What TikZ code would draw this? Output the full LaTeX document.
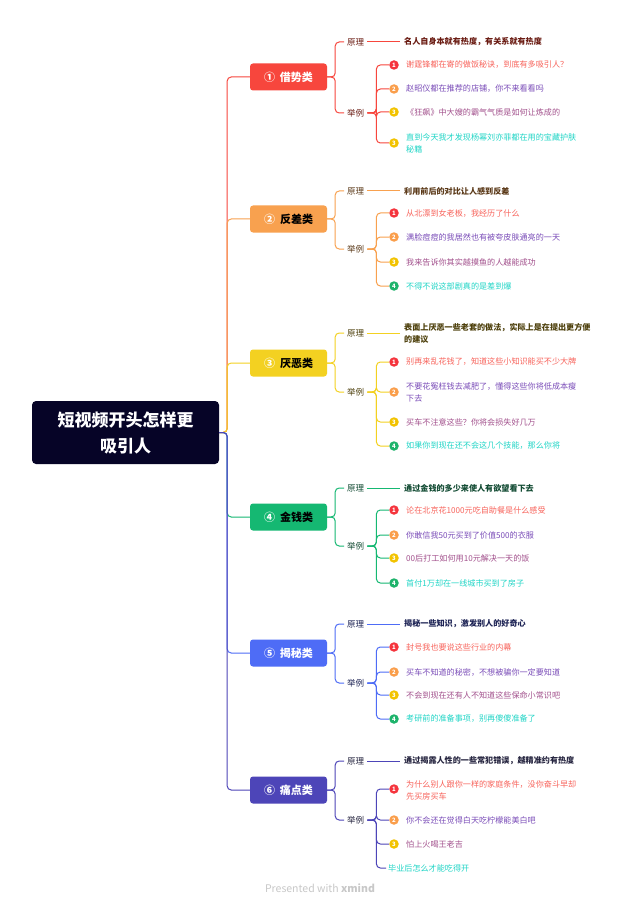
\documentclass[tikz,border=0pt]{standalone}
\usepackage{fontspec}
\setmainfont{Noto Sans CJK SC}
\definecolor{rootnavy}{HTML}{060427}
\definecolor{boxred}{HTML}{F7463D}
\definecolor{boxorange}{HTML}{F8A14F}
\definecolor{boxyellow}{HTML}{F3D121}
\definecolor{boxgreen}{HTML}{15B872}
\definecolor{boxblue}{HTML}{4E6CF6}
\definecolor{boxpurple}{HTML}{4D45B8}
\definecolor{rulered}{HTML}{6A1B12}
\definecolor{rulebrown}{HTML}{5B3918}
\definecolor{ruleolive}{HTML}{4D3F0B}
\definecolor{rulegreen}{HTML}{124B33}
\definecolor{rulenavy}{HTML}{1C2254}
\definecolor{rulepurple}{HTML}{25243F}
\definecolor{itemred}{HTML}{F8635B}
\definecolor{itempurple}{HTML}{7A4CB8}
\definecolor{itemmauve}{HTML}{A2508C}
\definecolor{itemcyan}{HTML}{1FD5C6}
\definecolor{dotred}{HTML}{F5343D}
\definecolor{dotorange}{HTML}{FA9E4B}
\definecolor{dotyellow}{HTML}{F2C300}
\definecolor{dotgreen}{HTML}{1DB36B}
\definecolor{footgray}{HTML}{C8C8C8}
\tikzset{
	catbox/.style={shape=rectangle, rounded corners=3pt, minimum width=77pt, minimum height=27pt, inner sep=0pt, font=\fontsize{11}{13}\selectfont\bfseries},
	tag/.style={anchor=west, inner sep=3pt, font=\fontsize{8.5}{10}\selectfont},
	rule/.style={anchor=west, inner sep=4pt, align=left, font=\fontsize{8.1}{12}\selectfont\bfseries},
	item/.style={anchor=west, inner sep=4pt, align=left, font=\fontsize{8.1}{12}\selectfont},
	dot/.style={shape=circle, minimum size=9.5pt, inner sep=0pt, text=white, font=\fontsize{6}{6}\selectfont\bfseries},
	wire/.style={line width=1pt, rounded corners=4pt},
}
\begin{document}
\begin{tikzpicture}[x=1pt, y=-1pt]
	\useasboundingbox (0,0) rectangle (640,909);
	\fill[white] (0,0) rectangle (640,909);
	% Paths, nodes and wires:
	\node[shape=rectangle, rounded corners=4pt, fill=rootnavy, minimum width=187pt, minimum height=63pt, text=white, align=center, font=\fontsize{17}{26}\selectfont\bfseries] (root) at (125.5, 432.5){短视频开头怎样更\\吸引人};
	% branch 1
	\node[catbox, fill=boxred, text=white] (c1) at (288.5, 77){①\hspace{5pt}借势类};
	\node[tag, text=rulered] (p1) at (344, 42){原理};
	\node[rule, text=rulered] (t1) at (400, 42){名人自身本就有热度，有关系就有热度};
	\node[tag, text=rulered] (e1) at (344, 113){举例};
	\node[dot, fill=dotred] (d11) at (394, 65){1};
	\node[item, text=itemred] (i11) at (402, 65){谢霆锋都在寄的做饭秘诀，到底有多吸引人？};
	\node[dot, fill=dotorange] (d12) at (394, 89){2};
	\node[item, text=itempurple] (i12) at (402, 89){赵昭仪都在推荐的店铺，你不来看看吗};
	\node[dot, fill=dotyellow] (d13) at (394, 112){3};
	\node[item, text=itemmauve] (i13) at (402, 112){《狂飙》中大嫂的霸气气质是如何让炼成的};
	\node[dot, fill=dotyellow] (d14) at (394, 143){3};
	\node[item, text=itemcyan] (i14) at (402, 143){直到今天我才发现杨幂刘亦菲都在用的宝藏护肤\\秘籍};
	% branch 2
	\node[catbox, fill=boxorange, text=black] (c2) at (288.5, 219){\textcolor{white}{②}\hspace{5pt}反差类};
	\node[tag, text=rulebrown] (p2) at (344, 191){原理};
	\node[rule, text=rulebrown] (t2) at (400, 191){利用前后的对比让人感到反差};
	\node[tag, text=rulebrown] (e2) at (344, 249){举例};
	\node[dot, fill=dotred] (d21) at (394, 213){1};
	\node[item, text=itemred] (i21) at (402, 213){从北漂到女老板，我经历了什么};
	\node[dot, fill=dotorange] (d22) at (394, 237){2};
	\node[item, text=itempurple] (i22) at (402, 237){满脸痘痘的我居然也有被夸皮肤通亮的一天};
	\node[dot, fill=dotyellow] (d23) at (394, 262){3};
	\node[item, text=itemmauve] (i23) at (402, 262){我来告诉你其实越摸鱼的人越能成功};
	\node[dot, fill=dotgreen] (d24) at (394, 286){4};
	\node[item, text=itemcyan] (i24) at (402, 286){不得不说这部剧真的是差到爆};
	% branch 3
	\node[catbox, fill=boxyellow, text=black] (c3) at (288.5, 363){\textcolor{white}{③}\hspace{5pt}厌恶类};
	\node[tag, text=ruleolive] (p3) at (344, 333){原理};
	\node[rule, text=ruleolive] (t3) at (400, 333){表面上厌恶一些老套的做法，实际上是在提出更方便\\的建议};
	\node[tag, text=ruleolive] (e3) at (344, 392){举例};
	\node[dot, fill=dotred] (d31) at (394, 362){1};
	\node[item, text=itemred] (i31) at (402, 362){别再来乱花钱了，知道这些小知识能买不少大牌};
	\node[dot, fill=dotorange] (d32) at (394, 392){2};
	\node[item, text=itempurple] (i32) at (402, 392){不要花冤枉钱去减肥了，懂得这些你将低成本瘦\\下去};
	\node[dot, fill=dotyellow] (d33) at (394, 422){3};
	\node[item, text=itemmauve] (i33) at (402, 422){买车不注意这些？你将会损失好几万};
	\node[dot, fill=dotgreen] (d34) at (394, 446){4};
	\node[item, text=itemcyan] (i34) at (402, 446){如果你到现在还不会这几个技能，那么你将};
	% branch 4
	\node[catbox, fill=boxgreen, text=black] (c4) at (288.5, 517){\textcolor{white}{④}\hspace{5pt}金钱类};
	\node[tag, text=rulegreen] (p4) at (344, 488){原理};
	\node[rule, text=rulegreen] (t4) at (400, 488){通过金钱的多少来使人有欲望看下去};
	\node[tag, text=rulegreen] (e4) at (344, 546){举例};
	\node[dot, fill=dotred] (d41) at (394, 510){1};
	\node[item, text=itemred] (i41) at (402, 510){论在北京花1000元吃自助餐是什么感受};
	\node[dot, fill=dotorange] (d42) at (394, 535){2};
	\node[item, text=itempurple] (i42) at (402, 535){你敢信我50元买到了价值500的衣服};
	\node[dot, fill=dotyellow] (d43) at (394, 558){3};
	\node[item, text=itemmauve] (i43) at (402, 558){00后打工如何用10元解决一天的饭};
	\node[dot, fill=dotgreen] (d44) at (394, 583){4};
	\node[item, text=itemcyan] (i44) at (402, 583){首付1万却在一线城市买到了房子};
	% branch 5
	\node[catbox, fill=boxblue, text=white] (c5) at (288.5, 653){⑤\hspace{5pt}揭秘类};
	\node[tag, text=rulenavy] (p5) at (344, 624){原理};
	\node[rule, text=rulenavy] (t5) at (400, 624){揭秘一些知识，激发别人的好奇心};
	\node[tag, text=rulenavy] (e5) at (344, 683){举例};
	\node[dot, fill=dotred] (d51) at (394, 647){1};
	\node[item, text=itemred] (i51) at (402, 647){封号我也要说这些行业的内幕};
	\node[dot, fill=dotorange] (d52) at (394, 672){2};
	\node[item, text=itempurple] (i52) at (402, 672){买车不知道的秘密，不想被骗你一定要知道};
	\node[dot, fill=dotyellow] (d53) at (394, 695){3};
	\node[item, text=itemmauve] (i53) at (402, 695){不会到现在还有人不知道这些保命小常识吧};
	\node[dot, fill=dotgreen] (d54) at (394, 719){4};
	\node[item, text=itemcyan] (i54) at (402, 719){考研前的准备事项，别再傻傻准备了};
	% branch 6
	\node[catbox, fill=boxpurple, text=white] (c6) at (288.5, 790){⑥\hspace{5pt}痛点类};
	\node[tag, text=rulepurple] (p6) at (344, 761){原理};
	\node[rule, text=rulepurple] (t6) at (400, 761){通过揭露人性的一些常犯错误，越精准约有热度};
	\node[tag, text=rulepurple] (e6) at (344, 820){举例};
	\node[dot, fill=dotred] (d61) at (394, 789){1};
	\node[item, text=itemred] (i61) at (402, 790){为什么别人跟你一样的家庭条件，没你奋斗早却\\先买房买车};
	\node[dot, fill=dotorange] (d62) at (394, 820){2};
	\node[item, text=itempurple] (i62) at (402, 820){你不会还在觉得白天吃柠檬能美白吧};
	\node[dot, fill=dotyellow] (d63) at (394, 844){3};
	\node[item, text=itemmauve] (i63) at (402, 844){怕上火喝王老吉};
	\node[item, text=itemcyan, inner sep=2pt] (i64) at (386, 868){毕业后怎么才能吃得开};
	% footer
	\node[text=footgray, font=\fontsize{10.5}{12}\selectfont] (foot) at (320, 888){Presented with \textbf{xmind}};
	% wires
	\draw[wire, boxred] (root.east) -- ++(8,0) |- (c1.west);
	\draw[wire, boxred] (c1.east) -- ++(8,0) |- (p1.west);
	\draw[wire, boxred] (c1.east) -- ++(8,0) |- (e1.west);
	\draw[wire, boxred] (p1.east) -- (t1.west);
	\draw[wire, boxred] (e1.east) -- ++(9,0) |- (d11.west);
	\draw[wire, boxred] (e1.east) -- ++(9,0) |- (d12.west);
	\draw[wire, boxred] (e1.east) -- ++(9,0) |- (d13.west);
	\draw[wire, boxred] (e1.east) -- ++(9,0) |- (d14.west);
	\draw[wire, boxorange] (root.east) -- ++(8,0) |- (c2.west);
	\draw[wire, boxorange] (c2.east) -- ++(8,0) |- (p2.west);
	\draw[wire, boxorange] (c2.east) -- ++(8,0) |- (e2.west);
	\draw[wire, boxorange] (p2.east) -- (t2.west);
	\draw[wire, boxorange] (e2.east) -- ++(9,0) |- (d21.west);
	\draw[wire, boxorange] (e2.east) -- ++(9,0) |- (d22.west);
	\draw[wire, boxorange] (e2.east) -- ++(9,0) |- (d23.west);
	\draw[wire, boxorange] (e2.east) -- ++(9,0) |- (d24.west);
	\draw[wire, boxyellow] (root.east) -- ++(8,0) |- (c3.west);
	\draw[wire, boxyellow] (c3.east) -- ++(8,0) |- (p3.west);
	\draw[wire, boxyellow] (c3.east) -- ++(8,0) |- (e3.west);
	\draw[wire, boxyellow] (p3.east) -- (t3.west);
	\draw[wire, boxyellow] (e3.east) -- ++(9,0) |- (d31.west);
	\draw[wire, boxyellow] (e3.east) -- ++(9,0) |- (d32.west);
	\draw[wire, boxyellow] (e3.east) -- ++(9,0) |- (d33.west);
	\draw[wire, boxyellow] (e3.east) -- ++(9,0) |- (d34.west);
	\draw[wire, boxgreen] (root.east) -- ++(8,0) |- (c4.west);
	\draw[wire, boxgreen] (c4.east) -- ++(8,0) |- (p4.west);
	\draw[wire, boxgreen] (c4.east) -- ++(8,0) |- (e4.west);
	\draw[wire, boxgreen] (p4.east) -- (t4.west);
	\draw[wire, boxgreen] (e4.east) -- ++(9,0) |- (d41.west);
	\draw[wire, boxgreen] (e4.east) -- ++(9,0) |- (d42.west);
	\draw[wire, boxgreen] (e4.east) -- ++(9,0) |- (d43.west);
	\draw[wire, boxgreen] (e4.east) -- ++(9,0) |- (d44.west);
	\draw[wire, boxblue] (root.east) -- ++(8,0) |- (c5.west);
	\draw[wire, boxblue] (c5.east) -- ++(8,0) |- (p5.west);
	\draw[wire, boxblue] (c5.east) -- ++(8,0) |- (e5.west);
	\draw[wire, boxblue] (p5.east) -- (t5.west);
	\draw[wire, boxblue] (e5.east) -- ++(9,0) |- (d51.west);
	\draw[wire, boxblue] (e5.east) -- ++(9,0) |- (d52.west);
	\draw[wire, boxblue] (e5.east) -- ++(9,0) |- (d53.west);
	\draw[wire, boxblue] (e5.east) -- ++(9,0) |- (d54.west);
	\draw[wire, boxpurple] (root.east) -- ++(8,0) |- (c6.west);
	\draw[wire, boxpurple] (c6.east) -- ++(8,0) |- (p6.west);
	\draw[wire, boxpurple] (c6.east) -- ++(8,0) |- (e6.west);
	\draw[wire, boxpurple] (p6.east) -- (t6.west);
	\draw[wire, boxpurple] (e6.east) -- ++(9,0) |- (d61.west);
	\draw[wire, boxpurple] (e6.east) -- ++(9,0) |- (d62.west);
	\draw[wire, boxpurple] (e6.east) -- ++(9,0) |- (d63.west);
	\draw[wire, boxpurple] (e6.east) -- ++(9,0) |- (i64.west);
\end{tikzpicture}
\end{document}
